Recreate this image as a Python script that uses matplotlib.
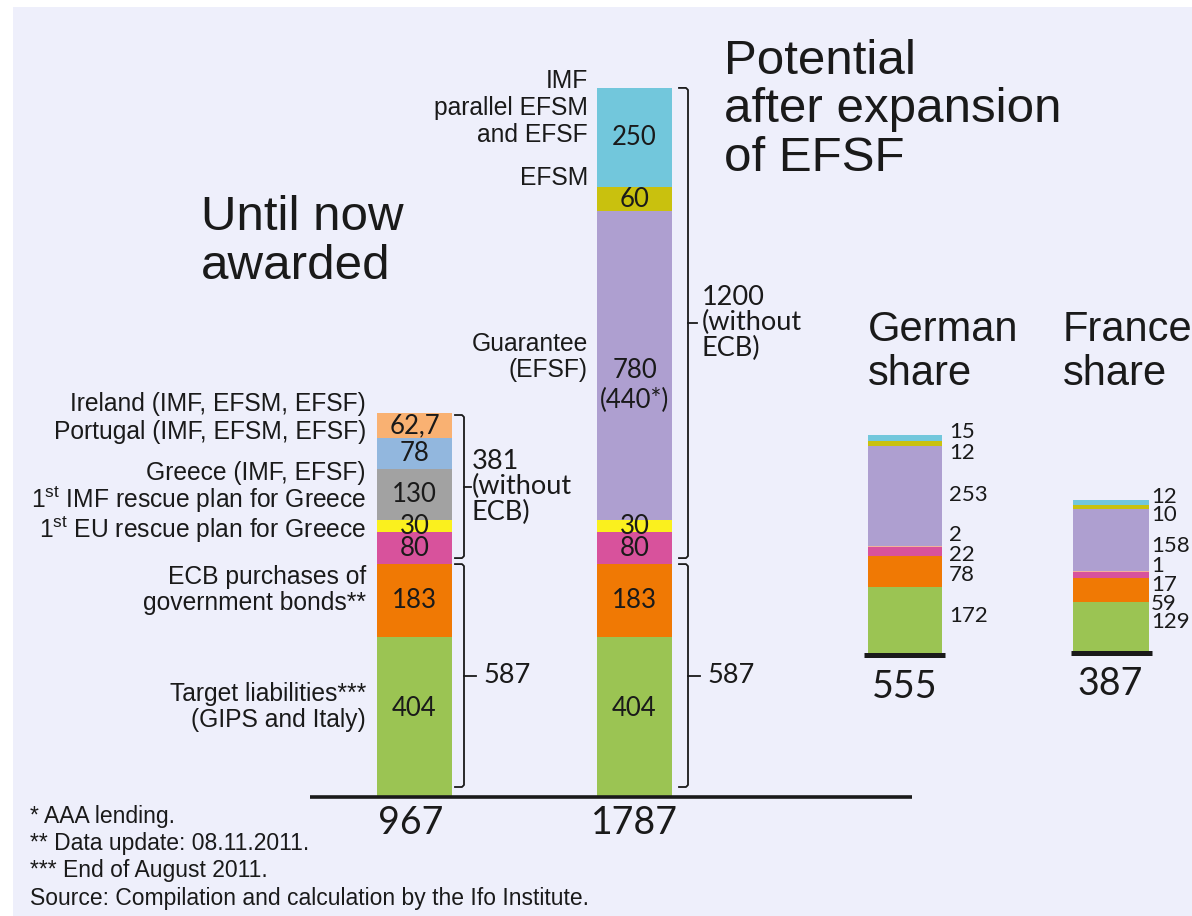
import matplotlib
matplotlib.use("Agg")
import matplotlib.pyplot as plt
from matplotlib.patches import Rectangle
import numpy as np

W, H = 1192, 916
DPI = 100

# ---- data (billion euro), stacked bottom to top ----
awarded_values = [404, 183, 80, 30, 130, 78, 62.7]
awarded_labels = ["404", "183", "80", "30", "130", "78", "62,7"]
potential_values = [404, 183, 80, 30, 780, 60, 250]
potential_labels = ["404", "183", "80", "30", "780\n(440*)", "60", "250"]
german_values = [172, 78, 22, 2, 253, 12, 15]
france_values = [129, 59, 17, 1, 158, 10, 12]
bar_totals = ["967", "1787"]
share_totals = ["555", "387"]
share_titles = ["German\nshare", "France\nshare"]
bracket_texts = {"ecb": "587", "awarded": "381\n(without\nECB)",
                 "potential": "1200\n(without\nECB)"}

awarded_names = ["Target liabilities***\n(GIPS and Italy)",
                 "ECB purchases of\ngovernment bonds**",
                 "1$^{\\mathrm{st}}$ EU rescue plan for Greece",
                 "1$^{\\mathrm{st}}$ IMF rescue plan for Greece",
                 "Greece (IMF, EFSF)",
                 "Portugal (IMF, EFSM, EFSF)",
                 "Ireland (IMF, EFSM, EFSF)"]
potential_names = ["Guarantee\n(EFSF)", "EFSM", "IMF\nparallel EFSM\nand EFSF"]
footnotes = ["* AAA lending.", "** Data update: 08.11.2011.",
             "*** End of August 2011.",
             "Source: Compilation and calculation by the Ifo Institute."]

# ---- colours ----
GREEN, ORANGE, PINK, YELLOW = "#9bc453", "#f07904", "#d8529c", "#faf01e"
GREY, BLUE, LORANGE = "#a2a2a2", "#92b7de", "#f9b172"
PURPLE, OLIVE, CYAN, PEACH = "#ae9fd0", "#c9c10e", "#72c7dc", "#f2b39a"
awarded_colors = [GREEN, ORANGE, PINK, YELLOW, GREY, BLUE, LORANGE]
potential_colors = [GREEN, ORANGE, PINK, YELLOW, PURPLE, OLIVE, CYAN]
share_colors = [GREEN, ORANGE, PINK, PEACH, PURPLE, OLIVE, CYAN]
BG = "#eeeffb"
INK = "#1a1a1a"

plt.rcParams["mathtext.fontset"] = "custom"
plt.rcParams["mathtext.rm"] = "Liberation Sans"
SANS = "Liberation Sans"
NUM = "Lato"

fig = plt.figure(figsize=(W / DPI, H / DPI), dpi=DPI, facecolor="white")
fig.patches.append(Rectangle((13 / W, 0), 1 - 13 / W, 1 - 7 / H,
                             transform=fig.transFigure, facecolor=BG,
                             edgecolor="none", zorder=-5))

# value axis: x in pixels, y in billions; baseline of main bars at pixel 797
K = 0.3968         # pixels per billion
BASE_PX = 797
ax = fig.add_axes([0, 0, 1, 1])
ax.set_xlim(0, W)
ax.set_ylim((BASE_PX - H) / K, BASE_PX / K)
ax.axis("off")
ax.patch.set_alpha(0)


def px(dy):
    """pixel distance -> value units"""
    return dy / K


def T(x, y, s, **kw):
    fig.text(x / W, 1 - y / H, s, **kw)


def stack(xc, width, values, colors, base=0.0):
    bottoms = base + np.concatenate([[0], np.cumsum(values)[:-1]])
    ax.bar([xc] * len(values), values, width=width, bottom=bottoms,
           color=colors, linewidth=0, zorder=2)
    return bottoms


X1, X2, XG, XF = 414.5, 634.5, 904.5, 1110.5
BW = 75

b1 = stack(X1, BW, awarded_values, awarded_colors)
b2 = stack(X2, BW, potential_values, potential_colors)
german_base = px(BASE_PX - 655)
france_base = px(BASE_PX - 653)
stack(XG, 74, german_values, share_colors, german_base)
stack(XF, 76, france_values, share_colors, france_base)

# baselines
ax.plot([310, 912], [0, 0], color=INK, lw=2.6, zorder=3, solid_capstyle="butt")
ax.plot([864, 945], [german_base, german_base], color=INK, lw=3.6, zorder=3,
        solid_capstyle="butt")
ax.plot([1071, 1152], [france_base, france_base], color=INK, lw=3.6, zorder=3,
        solid_capstyle="butt")

# segment value labels
for b, vals, labs, xc in [(b1, awarded_values, awarded_labels, X1),
                          (b2, potential_values, potential_labels, X2)]:
    for bot, v, lab in zip(b, vals, labs):
        yc = bot + v / 2
        if "\n" in lab:
            yc -= px(20)
        if lab == "404":
            yc += px(8)
        ax.text(xc, yc, lab, ha="center", va="center", fontsize=18.5,
                family=NUM, color=INK, zorder=4, linespacing=1.25)

# share value labels beside the small bars
share_label_px = {"g": [616, 575, 555, 535, 495, 453, 432],
                  "f": [622, 604, 585, 566, 546, 515, 497]}
for vals, key, xl in [(german_values, "g", 949), (france_values, "f", 1151)]:
    for v, ypx in zip(vals, share_label_px[key]):
        T(xl, ypx, str(v), ha="left", va="center", fontsize=16, family=NUM,
          color=INK)


# brackets
def bracket(x, y0, y1, label, tick, tx):
    ax.plot([x - 9, x - 2, x, x, x - 2, x - 9],
            [y1, y1, y1 - px(2), y0 + px(2), y0, y0],
            color=INK, lw=1.3, zorder=3)
    ym = (y0 + y1) / 2
    ax.plot([x, x + tick], [ym, ym], color=INK, lw=1.3, zorder=3)
    ax.text(tx, ym, label, ha="left", va="center", fontsize=19.5, family=NUM,
            color=INK, linespacing=1.02)


ecb_top = sum(awarded_values[:2])
bracket(464, px(10), ecb_top, bracket_texts["ecb"], 12, 483)
bracket(464, ecb_top + px(6), sum(awarded_values) - px(2),
        bracket_texts["awarded"], 7, 472)
pot_ecb_top = sum(potential_values[:2])
bracket(688, px(10), pot_ecb_top, bracket_texts["ecb"], 12, 707)
bracket(688, pot_ecb_top + px(6), sum(potential_values),
        bracket_texts["potential"], 9, 702)

# category names
name_px = [707, 590, 530, 500, 473, 432, 404]
for name, ypx in zip(awarded_names, name_px):
    T(366, ypx, name, ha="right", va="center", fontsize=17.7, family=SANS,
      color=INK, linespacing=1.15)
pot_name_px = [357, 178, 108]
for name, ypx in zip(potential_names, pot_name_px):
    T(588, ypx, name, ha="right", va="center", fontsize=17.7, family=SANS,
      color=INK, linespacing=1.15)

# titles
T(201, 242, "Until now\nawarded", ha="left", va="center", fontsize=35.5,
  family=SANS, color=INK, linespacing=1.1)
T(724, 110, "Potential\nafter expansion\nof EFSF", ha="left", va="center",
  fontsize=35.5, family=SANS, color=INK, linespacing=1.1)
for s, xl in zip(share_titles, [868, 1063]):
    T(xl, 352, s, ha="left", va="center", fontsize=30, family=SANS,
      color=INK, linespacing=1.1)

# totals
for s, xc in zip(bar_totals, [411, 634]):
    T(xc, 823, s, ha="center", va="center", fontsize=27, family=NUM, color=INK)
for s, xc, ypx in zip(share_totals, [XG, XF], [687, 684]):
    T(xc, ypx, s, ha="center", va="center", fontsize=27, family=NUM, color=INK)

# footnotes
for i, s in enumerate(footnotes):
    T(30, 816 + 27.5 * i, s, ha="left", va="center", fontsize=16.5,
      family=SANS, color=INK)

fig.savefig("out.png", dpi=DPI, facecolor="white")
